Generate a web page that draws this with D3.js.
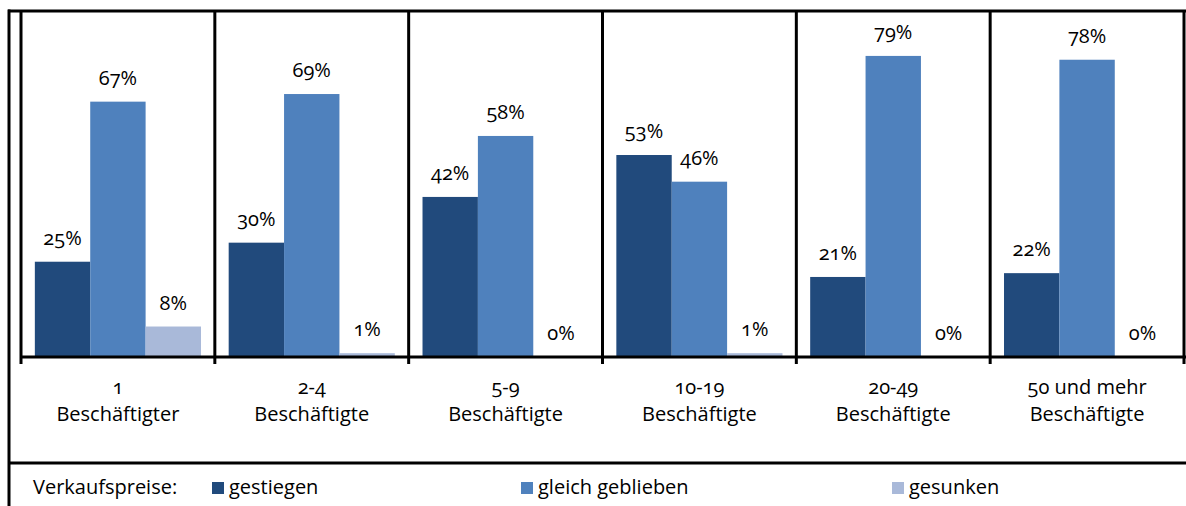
<!doctype html>
<html lang="de">
<head>
    <meta charset="UTF-8">
    <title>Verkaufspreise nach Betriebsgröße</title>
    <style>
        body { margin: 0; background: #fff; }
        svg { display: block; }
        text {
            font-family: "Open Sans", "Noto Sans", sans-serif;
            font-size: 20px;
            fill: #000;
            font-variant-numeric: oldstyle-nums;
        }
        .frame {
            stroke: #000;
            stroke-width: 3px;
            fill: none;
        }
    </style>
</head>
<body>

<svg width="1186" height="506"></svg>

<script src="https://d3js.org/d3.v7.min.js"></script>
<script>
  // Kategorien (zweizeilige Beschriftung)
  const categories = ['1', '2-4', '5-9', '10-19', '20-49', '50 und mehr']
  const categorySub = ['Beschäftigter', 'Beschäftigte', 'Beschäftigte', 'Beschäftigte', 'Beschäftigte', 'Beschäftigte']

  // Serien
  const seriesNames = ['gestiegen', 'gleich geblieben', 'gesunken']
  const gestiegen = [25, 30, 42, 53, 21, 22]
  const gleichGeblieben = [67, 69, 58, 46, 79, 78]
  const gesunken = [8, 1, 0, 1, 0, 0]
  const seriesColors = ['#214a7c', '#4f81bd', '#a9b9d9']

  const legendTitle = 'Verkaufspreise:'

  const values = [gestiegen, gleichGeblieben, gesunken]
  const rows = categories.map((c, i) => ({
    cat: c,
    sub: categorySub[i],
    vals: seriesNames.map((s, j) => ({ name: s, value: values[j][i], color: seriesColors[j] }))
  }))

  const svg = d3.select('svg')

  const plotLeft = 21, plotRight = 1184, plotTop = 11, baseline = 357

  const x = d3.scaleBand()
    .domain(categories)
    .range([plotLeft, plotRight])
    .padding(0)

  const xInner = d3.scaleBand()
    .domain(seriesNames)
    .range([0, x.bandwidth()])
    .paddingInner(0)
    .paddingOuter(0.25)

  const y = d3.scaleLinear()
    .domain([0, 90])
    .range([baseline, 14])

  // Balken
  const groups = svg.append('g')
    .selectAll('g.group')
    .data(rows)
    .enter()
    .append('g')
    .attr('class', 'group')
    .attr('transform', d => `translate(${x(d.cat)},0)`)

  groups.selectAll('rect')
    .data(d => d.vals)
    .enter()
    .append('rect')
    .attr('x', d => xInner(d.name))
    .attr('y', d => y(d.value))
    .attr('width', xInner.bandwidth())
    .attr('height', d => baseline - y(d.value))
    .attr('fill', d => d.color)

  // Wertebeschriftung
  groups.selectAll('text.val')
    .data(d => d.vals)
    .enter()
    .append('text')
    .attr('class', 'val')
    .attr('x', d => xInner(d.name) + xInner.bandwidth() / 2)
    .attr('y', d => y(d.value) - 17)
    .attr('text-anchor', 'middle')
    .text(d => d.value + '%')

  // Rahmen und Trennlinien
  const frame = svg.append('g').attr('class', 'frame')
  frame.append('line').attr('x1', 8).attr('x2', 1186).attr('y1', plotTop).attr('y2', plotTop)
  frame.append('line').attr('x1', 9).attr('x2', 9).attr('y1', plotTop - 1.5).attr('y2', 506)
  frame.append('line').attr('x1', 9).attr('x2', 1186).attr('y1', 463).attr('y2', 463)
  frame.append('line').attr('x1', plotLeft).attr('x2', 1186).attr('y1', baseline).attr('y2', baseline)

  const bounds = categories.map(c => x(c)).concat([plotRight])
  frame.selectAll('line.sep')
    .data(bounds)
    .enter()
    .append('line')
    .attr('class', 'sep')
    .attr('x1', d => d)
    .attr('x2', d => d)
    .attr('y1', plotTop)
    .attr('y2', 364)

  // Kategorienbeschriftung
  const labels = svg.append('g')
    .selectAll('text')
    .data(rows)
    .enter()
    .append('text')
    .attr('text-anchor', 'middle')
  labels.append('tspan')
    .attr('x', d => x(d.cat) + x.bandwidth() / 2)
    .attr('y', 394)
    .text(d => d.cat)
  labels.append('tspan')
    .attr('x', d => x(d.cat) + x.bandwidth() / 2)
    .attr('y', 421)
    .text(d => d.sub)

  // Legende
  const legend = svg.append('g')
  legend.append('text')
    .attr('x', 33)
    .attr('y', 494)
    .text(legendTitle)

  const legendX = [212, 521, 892]
  const items = legend.selectAll('g.item')
    .data(seriesNames)
    .enter()
    .append('g')
    .attr('class', 'item')
    .attr('transform', (d, i) => `translate(${legendX[i]},0)`)
  items.append('rect')
    .attr('x', 0)
    .attr('y', 482)
    .attr('width', 12)
    .attr('height', 12)
    .attr('fill', (d, i) => seriesColors[i])
  items.append('text')
    .attr('x', 17)
    .attr('y', 494)
    .text(d => d)
</script>
</body>
</html>
